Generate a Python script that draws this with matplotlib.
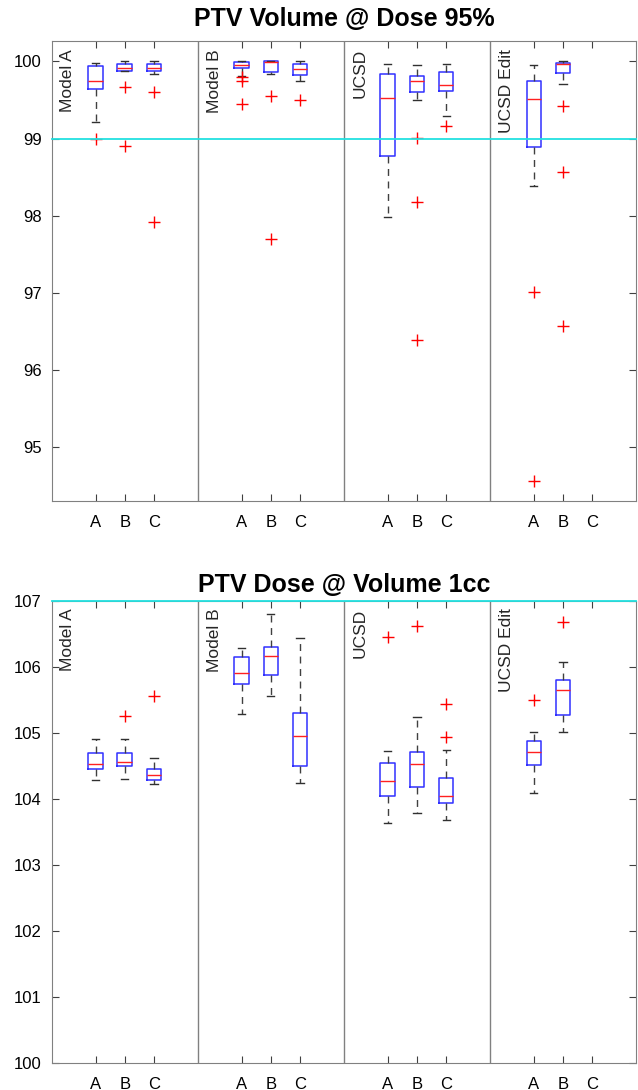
import matplotlib
matplotlib.use("Agg")
import matplotlib.pyplot as plt
import matplotlib.transforms as mtransforms

plt.rcParams['font.family'] = ['Liberation Sans', 'DejaVu Sans']

groups = ['Model A', 'Model B', 'UCSD', 'UCSD Edit']
cats = ['A', 'B', 'C']

# ---- PTV Volume @ Dose 95% (values per group, per category A/B/C) ----
vol_med = [[99.74, 99.92, 99.92], [99.96, 99.99, 99.90], [99.53, 99.75, 99.69], [99.51, 99.97, None]]
vol_q1 = [[99.64, 99.88, 99.88], [99.92, 99.86, 99.83], [98.77, 99.60, 99.62], [98.89, 99.85, None]]
vol_q3 = [[99.94, 99.97, 99.97], [99.99, 100.0, 99.97], [99.84, 99.81, 99.86], [99.75, 99.98, None]]
vol_lo = [[99.21, 99.87, 99.84], [99.81, 99.84, 99.74], [97.98, 99.50, 99.29], [98.39, 99.71, None]]
vol_hi = [[99.98, 100.0, 100.0], [100.0, 100.0, 100.0], [99.97, 99.96, 99.97], [99.96, 100.0, None]]
vol_out = [[[98.99], [99.67, 98.90], [99.60, 97.92]],
           [[99.80, 99.75, 99.45], [99.55, 97.69], [99.50]],
           [[], [99.01, 98.17, 96.38], [99.16]],
           [[97.01, 94.55], [99.42, 98.56, 96.56], []]]

# ---- PTV Dose @ Volume 1cc ----
dose_med = [[104.53, 104.56, 104.36], [105.91, 106.16, 104.95], [104.27, 104.53, 104.04], [104.71, 105.64, None]]
dose_q1 = [[104.45, 104.50, 104.29], [105.74, 105.88, 104.50], [104.04, 104.18, 103.94], [104.51, 105.26, None]]
dose_q3 = [[104.69, 104.69, 104.45], [106.14, 106.29, 105.30], [104.54, 104.70, 104.31], [104.88, 105.80, None]]
dose_lo = [[104.29, 104.30, 104.22], [105.28, 105.56, 104.23], [103.63, 103.78, 103.68], [104.08, 105.01, None]]
dose_hi = [[104.91, 104.91, 104.62], [106.28, 106.80, 106.44], [104.72, 105.23, 104.73], [105.01, 106.07, None]]
dose_out = [[[], [105.25], [105.56]],
            [[], [], []],
            [[106.45], [106.61], [105.43, 104.93]],
            [[105.50], [106.68], []]]


def draw_panel(ax, title, med, q1, q3, lo, hi, out, ylim, yticks, ref, tpad):
    stats, pos = [], []
    for g in range(len(groups)):
        for i in range(len(cats)):
            if med[g][i] is None:
                continue
            stats.append(dict(med=med[g][i], q1=q1[g][i], q3=q3[g][i],
                              whislo=lo[g][i], whishi=hi[g][i], fliers=out[g][i]))
            pos.append(5 * g + 1.5 + i)
    ax.bxp(stats, positions=pos, widths=0.5, capwidths=0.25,
           boxprops=dict(color='#3030ff', linewidth=1.1),
           medianprops=dict(color='#ff2020', linewidth=1.0),
           whiskerprops=dict(color='#404040', linewidth=1.0, linestyle=(0, (5, 4))),
           capprops=dict(color='#303030', linewidth=1.0),
           flierprops=dict(marker='+', markeredgecolor='red', markersize=9,
                           markeredgewidth=1.0, linestyle='none'))
    ax.axhline(ref, color='#22e0e0', linewidth=1.3, clip_on=False, zorder=5)
    for s in [5, 10, 15]:
        ax.axvline(s, color='#808080', linewidth=1.0)
    ax.set_xlim(0, 20)
    ax.set_ylim(*ylim)
    ticks = [5 * g + 1.5 + i for g in range(len(groups)) for i in range(len(cats))]
    ax.set_xticks(ticks)
    ax.set_xticklabels(cats * len(groups))
    ax.set_yticks(yticks)
    ax.tick_params(direction='in', top=True, right=True, length=5, width=0.8,
                   color='#404040', labelsize=12, pad=7)
    ax.tick_params(axis='x', pad=10)
    for sp in ax.spines.values():
        sp.set_color('#808080')
    trans = mtransforms.blended_transform_factory(ax.transData, ax.transAxes)
    for g, name in enumerate(groups):
        ax.text(5 * g + 0.3, 0.983, name, transform=trans, rotation=90,
                ha='left', va='top', fontsize=12.5, color='#262626')
    ax.set_title(title, fontsize=18, fontweight='bold', pad=tpad)


fig = plt.figure(figsize=(6.38, 10.90), dpi=100)
ax1 = fig.add_axes([0.081, 0.540, 0.916, 0.422])
ax2 = fig.add_axes([0.081, 0.025, 0.916, 0.424])

draw_panel(ax1, 'PTV Volume @ Dose 95%', vol_med, vol_q1, vol_q3, vol_lo, vol_hi, vol_out,
           (94.29, 100.26), [95, 96, 97, 98, 99, 100], 99, 11)
draw_panel(ax2, 'PTV Dose @ Volume 1cc', dose_med, dose_q1, dose_q3, dose_lo, dose_hi, dose_out,
           (100, 107), [100, 101, 102, 103, 104, 105, 106, 107], 107, 6)

fig.savefig('out.png', dpi=100)
